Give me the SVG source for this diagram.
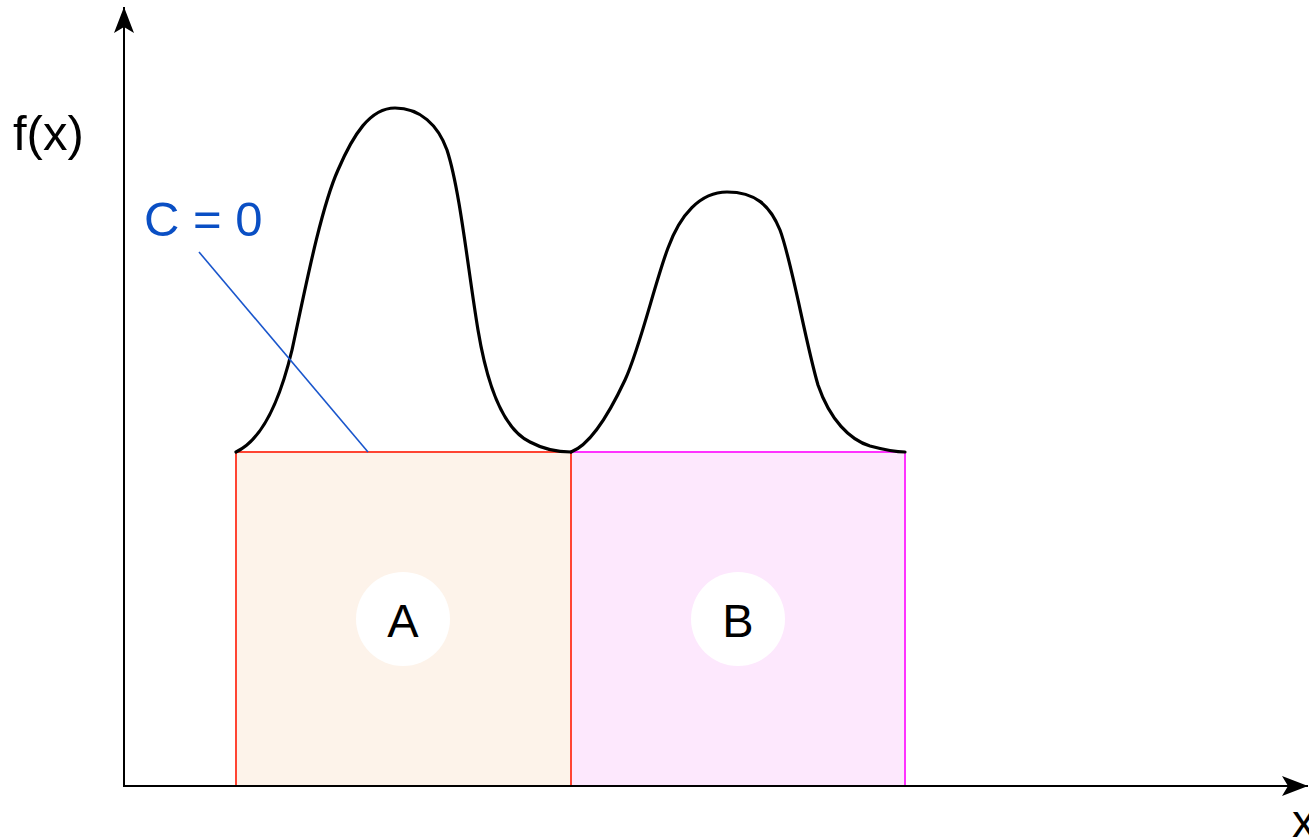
<svg xmlns="http://www.w3.org/2000/svg" width="1309" height="839" viewBox="0 0 1309 839">
  <style>
    .lbl { font-family: "Liberation Sans", Arial, sans-serif; font-size: 47px; fill: #000; }
    .big { font-size: 49px; }
    .blue { fill: #0a4fc4; }
    .axis { stroke: #000; stroke-width: 2; fill: none; }
    .curve { stroke: #000; stroke-width: 3.2; fill: none; stroke-linejoin: round; stroke-linecap: round; }
  </style>
  <defs>
    <marker id="arrow" viewBox="0 0 26 20" refX="26" refY="10" markerWidth="26" markerHeight="20" markerUnits="userSpaceOnUse" orient="auto">
      <path d="M0,0 L26,10 L0,20 L6,10 Z" fill="#000"/>
    </marker>
  </defs>
  <rect width="1309" height="839" fill="#fff"/>

  <g id="regionA">
    <rect x="236" y="452" width="335" height="334" fill="#fdf3ea" stroke="#ff4433" stroke-width="2"/>
    <circle cx="403" cy="619" r="47" fill="#fff"/>
    <text class="lbl" x="403" y="637" text-anchor="middle">A</text>
  </g>
  <g id="regionB">
    <rect x="571" y="452" width="334" height="334" fill="#fde8fd" stroke="#ff33ff" stroke-width="2"/>
    <line x1="571" y1="452" x2="571" y2="786" stroke="#ff4433" stroke-width="2"/>
    <circle cx="738" cy="619" r="47" fill="#fff"/>
    <text class="lbl" x="738" y="637" text-anchor="middle">B</text>
  </g>

  <g id="axes">
    <line class="axis" x1="124" y1="786" x2="124" y2="7" marker-end="url(#arrow)"/>
    <line class="axis" x1="123" y1="786" x2="1308" y2="786" marker-end="url(#arrow)"/>
    <text class="lbl big" x="13" y="150">f(x)</text>
    <text class="lbl" x="1292" y="837">x</text>
  </g>

  <g id="curve">
    <path class="curve" d="M236,452 C262,440 280,400 292,350 C303,300 320,210 338,170 C353,135 370,108 395,108 C420,108 438,125 447,150 C460,190 468,270 478,330 C488,390 505,430 530,442 C545,450 560,452 571,452"/>
    <path class="curve" d="M571,452 C590,445 610,412 625,380 C640,348 655,282 668,248 C680,215 700,192 727,192 C755,192 770,205 780,230 C792,262 805,340 818,385 C830,420 850,440 870,446 C885,450 895,452 905,452"/>
  </g>

  <g id="annotation">
    <line x1="199" y1="252" x2="368" y2="452" stroke="#1a56cc" stroke-width="1.6"/>
    <text class="lbl big blue" x="144" y="236">C = 0</text>
  </g>
</svg>
